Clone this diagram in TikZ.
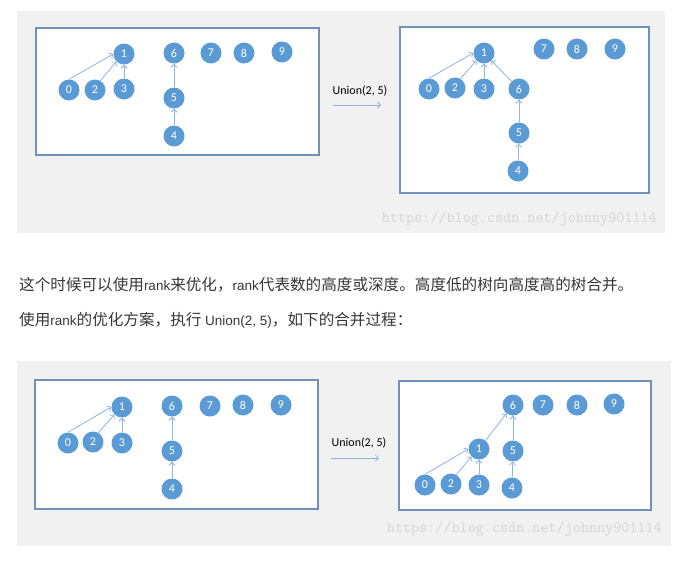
\documentclass[tikz,border=0pt]{standalone}
\usepackage{fontspec}
\setmainfont{Carlito}
\newfontfamily\cjk{Noto Sans CJK SC}
\newfontfamily\latinfont{Liberation Sans}
\usetikzlibrary{arrows.meta}
\definecolor{nodeblue}{RGB}{91,155,213}
\definecolor{linkblue}{RGB}{141,180,226}
\definecolor{framecol}{RGB}{112,146,186}
\definecolor{panelgray}{RGB}{241,241,241}
\definecolor{markgray}{RGB}{214,214,214}
\definecolor{textgray}{RGB}{55,55,55}
\newcommand{\latinpart}[1]{{\latinfont\fontsize{13.5}{16}\selectfont #1}}
\tikzset{
	elem/.style={circle, fill=nodeblue, text=white, minimum size=21pt, inner sep=0pt, font=\fontsize{12}{12}\selectfont},
	link/.style={linkblue, line width=0.8pt, -{Straight Barb[length=3pt,width=6pt]}},
	frame/.style={draw=framecol, line width=1.1pt, fill=white},
	wmark/.style={anchor=east, inner sep=0pt, text=markgray, font=\ttfamily\fontsize{15.7}{15.7}\selectfont},
	para/.style={anchor=west, inner sep=0pt, text=textgray, font=\cjk\fontsize{15.6}{16}\selectfont},
	oplabel/.style={inner sep=0pt, font=\fontsize{12}{12}\selectfont}
}
\begin{document}
\begin{tikzpicture}[x=1pt,y=-1pt]
		\useasboundingbox[fill=white] (0,0) rectangle (682,568);

		% before / after, Union(2, 5) without rank
		\fill[panelgray] (17,11) rectangle (665,233);
		\draw[frame] (36,28) rectangle (319,155);
		\draw[frame] (400,27) rectangle (649,193);
		\foreach \n/\x/\y in {0/69/90, 1/124/54, 2/95/90, 3/124/89, 4/174/136, 5/174/98, 6/174/53, 7/211/53, 8/244/53, 9/282/52}
			\node[elem] (a\n) at (\x,\y) {\n};
		\foreach \n/\x/\y in {0/429/89, 1/484/53, 2/455/88, 3/484/89, 4/518/171, 5/519/133, 6/519/89, 7/544/49, 8/577/49, 9/615/49}
			\node[elem] (b\n) at (\x,\y) {\n};
		\draw[link] (a0.north) -- (a1.west);
		\draw[link] (a2.60) -- (a1.south west);
		\draw[link] (a3) -- (a1);
		\draw[link] (a4) -- (a5);
		\draw[link] (a5) -- (a6);
		\draw[link] (b0.north) -- (b1.west);
		\draw[link] (b2.60) -- (b1.south west);
		\draw[link] (b3) -- (b1);
		\draw[link] (b6) -- (b1);
		\draw[link] (b5) -- (b6);
		\draw[link] (b4) -- (b5);

		\node[oplabel] (op1) at (360,91) {Union(2, 5)};
		\coordinate (op1s) at (333,105);
		\coordinate (op1e) at (381,105);
		\draw[link] (op1s) -- (op1e);
		\node[wmark] (wm1) at (657,219) {https://blog.csdn.net/johnny901114};

		\node[para] (line1) at (19,285) {这个时候可以使用\latinpart{rank}来优化，\latinpart{rank}代表数的高度或深度。高度低的树向高度高的树合并。};
		\node[para] (line2) at (19,320) {使用\latinpart{rank}的优化方案，执行\latinpart{ Union(2, 5)}，如下的合并过程：};

		% before / after, Union(2, 5) with rank
		\fill[panelgray] (17,361) rectangle (671,546);
		\draw[frame] (35,380) rectangle (318,509);
		\draw[frame] (399,381) rectangle (651,510);
		\foreach \n/\x/\y in {0/68/443, 1/122/407, 2/93/442, 3/122/443, 4/172/489, 5/172/451, 6/172/406, 7/210/406, 8/243/405, 9/281/405}
			\node[elem] (c\n) at (\x,\y) {\n};
		\foreach \n/\x/\y in {0/425/485, 1/479/449, 2/451/484, 3/479/485, 4/512/488, 5/513/451, 6/513/405, 7/543/405, 8/577/405, 9/614/404}
			\node[elem] (d\n) at (\x,\y) {\n};
		\draw[link] (c0.north) -- (c1.west);
		\draw[link] (c2.60) -- (c1.south west);
		\draw[link] (c3) -- (c1);
		\draw[link] (c4) -- (c5);
		\draw[link] (c5) -- (c6);
		\draw[link] (d0.north) -- (d1.west);
		\draw[link] (d2.60) -- (d1.south west);
		\draw[link] (d3) -- (d1);
		\draw[link] (d1) -- (d6);
		\draw[link] (d4) -- (d5);
		\draw[link] (d5) -- (d6);

		\node[oplabel] (op2) at (359,443) {Union(2, 5)};
		\coordinate (op2s) at (331,458);
		\coordinate (op2e) at (379,458);
		\draw[link] (op2s) -- (op2e);
		\node[wmark] (wm2) at (662,529) {https://blog.csdn.net/johnny901114};
	\end{tikzpicture}
\end{document}
